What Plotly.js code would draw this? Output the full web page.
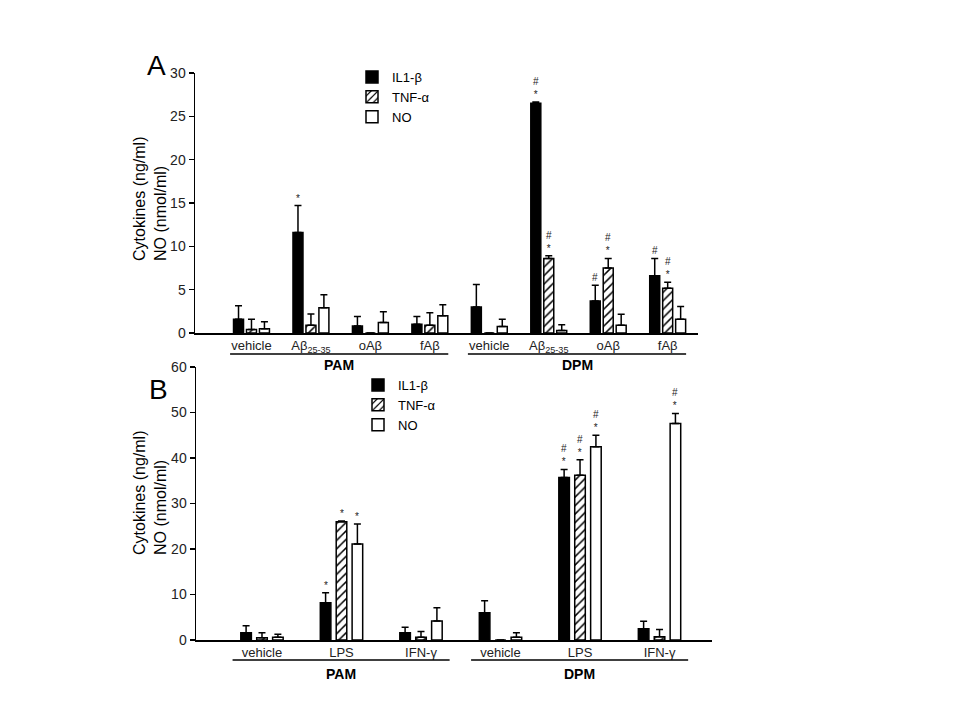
<!DOCTYPE html>
<html>
<head>
<meta charset="utf-8">
<script src="https://cdn.plot.ly/plotly-3.0.1.min.js"></script>
<style>html,body{margin:0;padding:0;background:#fff}#chart{width:960px;height:720px}</style>
</head>
<body>
<div id="chart"></div>
<script>
// ---------- Panel A data ----------
const catsA = ["vehicle", "Aβ<sub>25-35</sub>", "oAβ", "fAβ", "vehicle", "Aβ<sub>25-35</sub>", "oAβ", "fAβ"];
const groupsA = ["PAM", "DPM"];
const il1A    = [1.6, 11.6, 0.8, 1.0, 3.0, 26.5, 3.7, 6.6];
const il1ErrA = [1.55, 3.1, 1.1, 0.9, 2.6, 0.15, 1.8, 2.0];
const tnfA    = [0.4, 0.9, 0, 0.9, 0, 8.6, 7.5, 5.15];
const tnfErrA = [1.2, 1.3, 0, 1.45, 0, 0.3, 1.1, 0.7];
const noA     = [0.5, 2.9, 1.2, 2.0, 0.75, 0.3, 0.9, 1.6];
const noErrA  = [0.8, 1.5, 1.25, 1.25, 0.85, 0.65, 1.25, 1.45];
const il1SigA = ["", "*", "", "", "", "#<br>*", "#", "#"];
const tnfSigA = ["", "", "", "", "", "#<br>*", "#<br>*", "#<br>*"];
const noSigA  = ["", "", "", "", "", "", "", ""];

// ---------- Panel B data ----------
const catsB = ["vehicle", "LPS", "IFN-γ", "vehicle", "LPS", "IFN-γ"];
const groupsB = ["PAM", "DPM"];
const il1B    = [1.6, 8.2, 1.6, 6.0, 35.7, 2.5];
const il1ErrB = [1.55, 2.2, 1.2, 2.6, 1.8, 1.6];
const tnfB    = [0.5, 26.0, 0.6, 0, 36.2, 0.7];
const tnfErrB = [1.1, 0.15, 1.25, 0, 3.4, 1.6];
const noB     = [0.6, 21.1, 4.2, 0.6, 42.5, 47.6];
const noErrB  = [0.65, 4.4, 2.9, 1.0, 2.5, 2.2];
const il1SigB = ["", "*", "", "", "#<br>*", ""];
const tnfSigB = ["", "*", "", "", "#<br>*", ""];
const noSigB  = ["", "*", "", "", "#<br>*", "#<br>*"];

const seriesNames = ["IL1-β", "TNF-α", "NO"];
const yTitle = "Cytokines (ng/ml)<br>NO (nmol/ml)";

// ---------- styling ----------
const FONT = "Liberation Sans, Arial, sans-serif";
const styles = [
  {color: "black", line: {color: "black", width: 1.5}},
  {color: "white", line: {color: "black", width: 1.5},
   pattern: {shape: "/", fgcolor: "black", bgcolor: "white", size: 6, solidity: 0.25, fillmode: "replace"}},
  {color: "white", line: {color: "black", width: 1.5}}
];

function buildPanel(cats, series, errs, sigs, xa, ya, legendId, barW, step, annots) {
  const idx = cats.map((c, i) => i);
  const traces = [];
  series.forEach((vals, k) => {
    const off = (k - 1) * step - barW / 2;
    traces.push({
      type: "bar", name: seriesNames[k], x: idx, y: vals,
      xaxis: xa, yaxis: ya, legend: legendId,
      offset: off, width: barW,
      marker: styles[k],
      error_y: {type: "data", symmetric: false, array: errs[k], arrayminus: vals.map(() => 0),
                color: "black", thickness: 1.5, width: 3.5},
      hoverinfo: "skip"
    });
    sigs[k].forEach((s, i) => {
      if (!s) return;
      annots.push({
        xref: xa, yref: ya, x: i + off + barW / 2, y: vals[i] + errs[k][i],
        text: s, showarrow: false, yanchor: "bottom", yshift: 0,
        font: {family: FONT, size: 10, color: "#222"}
      });
    });
  });
  return traces;
}

const annotations = [];
const tracesA = buildPanel(catsA, [il1A, tnfA, noA], [il1ErrA, tnfErrA, noErrA], [il1SigA, tnfSigA, noSigA],
                           "x", "y", "legend", 0.168, 0.218, annotations);
const tracesB = buildPanel(catsB, [il1B, tnfB, noB], [il1ErrB, tnfErrB, noErrB], [il1SigB, tnfSigB, noSigB],
                           "x2", "y2", "legend2", 0.133, 0.2, annotations);

// group labels (PAM / DPM) and underlines
const shapes = [];
function groupDecor(groups, perGroup, xa, lineY, labelY, ext) {
  groups.forEach((g, gi) => {
    const first = gi * perGroup, last = first + perGroup - 1;
    shapes.push({type: "line", xref: xa, yref: "paper", x0: first - ext[0], x1: last + ext[1],
                 y0: lineY, y1: lineY, line: {color: "black", width: 1.5}});
    annotations.push({xref: xa, yref: "paper", x: (first + last) / 2 + (ext[1] - ext[0]) / 2, y: labelY,
                      text: "<b>" + g + "</b>", showarrow: false, yanchor: "middle",
                      font: {family: FONT, size: 14, color: "black"}});
  });
}
groupDecor(groupsA, 4, "x", 1 - 354 / 720, 1 - 365 / 720, [0.36, 0.31]);
groupDecor(groupsB, 3, "x2", 1 - 660 / 720, 1 - 674 / 720, [0.37, 0.36]);

// y titles (left-aligned rotated, as in reference) and panel letters
annotations.push({xref: "paper", yref: "paper", x: 150 / 960, y: 1 - 263 / 720, xanchor: "center", yanchor: "bottom",
  text: yTitle, textangle: -90, align: "left", showarrow: false, font: {family: FONT, size: 16, color: "black"}});
annotations.push({xref: "paper", yref: "paper", x: 150 / 960, y: 1 - 557 / 720, xanchor: "center", yanchor: "bottom",
  text: yTitle, textangle: -90, align: "left", showarrow: false, font: {family: FONT, size: 16, color: "black"}});
annotations.push({xref: "paper", yref: "paper", x: 168 / 960, y: 1 - 65 / 720, xanchor: "right", yanchor: "middle",
  text: "A", showarrow: false, font: {family: FONT, size: 28, color: "black"}});
annotations.push({xref: "paper", yref: "paper", x: 170 / 960, y: 1 - 389 / 720, xanchor: "right", yanchor: "middle",
  text: "B", showarrow: false, font: {family: FONT, size: 28, color: "black"}});

const xBase = {showline: true, linecolor: "black", linewidth: 1.5, ticks: "", showgrid: false, zeroline: false,
               tickfont: {family: FONT, size: 13, color: "#222"}, fixedrange: true};
const yBase = {showline: true, linecolor: "black", linewidth: 1.5, ticks: "outside", ticklen: 5, tickwidth: 1.5,
               tickcolor: "black", showgrid: false, zeroline: false,
               tickfont: {family: FONT, size: 14, color: "#222"}, fixedrange: true};

const layout = {
  width: 960, height: 720, margin: {l: 0, r: 0, t: 0, b: 0},
  paper_bgcolor: "white", plot_bgcolor: "white",
  barmode: "overlay", showlegend: true,
  font: {family: FONT, size: 12, color: "black"},
  xaxis: Object.assign({}, xBase, {domain: [195 / 960, 698 / 960], range: [-0.95, 7.51],
          tickvals: catsA.map((c, i) => i), ticktext: catsA, anchor: "y"}),
  yaxis: Object.assign({}, yBase, {domain: [1 - 333 / 720, 1 - 73 / 720], range: [0, 30], dtick: 5, anchor: "x"}),
  xaxis2: Object.assign({}, xBase, {domain: [196 / 960, 712 / 960], range: [-0.83, 5.66],
          tickvals: catsB.map((c, i) => i), ticktext: catsB, anchor: "y2"}),
  yaxis2: Object.assign({}, yBase, {domain: [1 - 640 / 720, 1 - 367 / 720], range: [0, 60], dtick: 10, anchor: "x2"}),
  legend: {x: 352 / 960, y: 1 - 62 / 720, xanchor: "left", yanchor: "top", bgcolor: "rgba(0,0,0,0)",
           font: {family: FONT, size: 13, color: "black"}, itemwidth: 30, tracegroupgap: 0},
  legend2: {x: 358 / 960, y: 1 - 370 / 720, xanchor: "left", yanchor: "top", bgcolor: "rgba(0,0,0,0)",
           font: {family: FONT, size: 13, color: "black"}, itemwidth: 30, tracegroupgap: 0},
  shapes: shapes,
  annotations: annotations
};

Plotly.newPlot("chart", tracesA.concat(tracesB), layout, {displayModeBar: false, staticPlot: true});
</script>
</body>
</html>
